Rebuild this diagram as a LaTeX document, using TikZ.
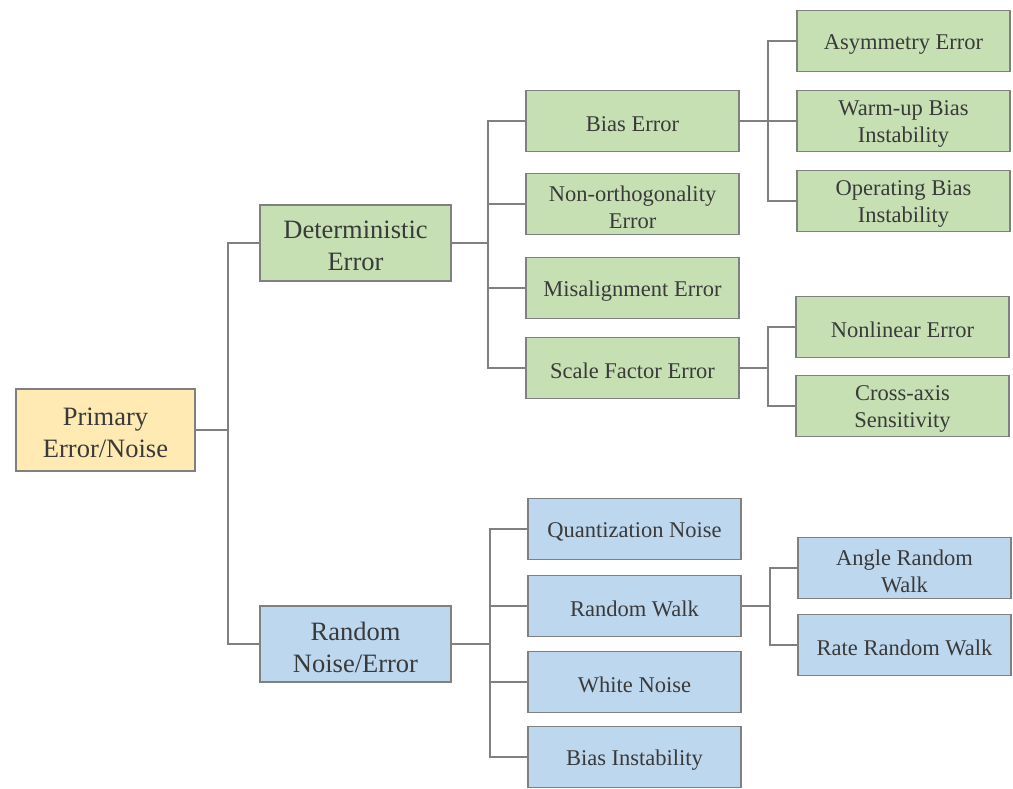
\documentclass[tikz,border=0pt]{standalone}
\usepackage{fontspec}
\setmainfont{Liberation Serif}
\definecolor{edgegray}{HTML}{808080}
\definecolor{txtgray}{HTML}{3A3A3A}
\definecolor{rootfill}{HTML}{FFEAB3}
\definecolor{detfill}{HTML}{C6E0B4}
\definecolor{rndfill}{HTML}{BDD7EE}
\begin{document}
\begin{tikzpicture}[x=1pt,y=-1pt,
  box/.style={draw=edgegray, line width=1.7pt, inner sep=0pt, anchor=center},
  txt/.style={text=txtgray, align=center, inner sep=0pt, yshift=-3pt},
  topbox/.style={box, minimum width=179pt, minimum height=82pt,
    label={[txt, font=\fontsize{26.5}{32}\selectfont]center:#1}},
  midbox/.style={box, minimum width=191pt, minimum height=76pt,
    label={[txt, font=\fontsize{26.5}{32}\selectfont]center:#1}},
  leafbox/.style={box, minimum width=213pt, minimum height=61pt,
    label={[txt, font=\fontsize{22.5}{27}\selectfont]center:#1}},
  link/.style={draw=edgegray, line width=1.7pt}
]
\useasboundingbox (0,0) rectangle (1013,788);

% root
\node[topbox={Primary\\Error/Noise}, fill=rootfill] (root) at (105.5,430) {};

% first level
\node[midbox={Deterministic\\Error}, fill=detfill] (det) at (355.5,243) {};
\node[midbox={Random\\Noise/Error}, fill=rndfill] (rnd) at (355.5,644) {};

% deterministic branch
\node[leafbox={Bias Error}, fill=detfill]               (bias)  at (632.5,121) {};
\node[leafbox={Non-orthogonality\\Error}, fill=detfill] (nonor) at (632.5,204) {};
\node[leafbox={Misalignment Error}, fill=detfill]       (misal) at (632.5,288) {};
\node[leafbox={Scale Factor Error}, fill=detfill]       (scale) at (632.5,368) {};

\node[leafbox={Asymmetry Error}, fill=detfill]           (asym) at (903.5,41)  {};
\node[leafbox={Warm-up Bias\\Instability}, fill=detfill]   (warm) at (903.5,121) {};
\node[leafbox={Operating Bias\\Instability}, fill=detfill] (oper) at (903.5,201) {};

\node[leafbox={Nonlinear Error}, fill=detfill]         (nonlin) at (902.5,327) {};
\node[leafbox={Cross-axis\\Sensitivity}, fill=detfill] (cross)  at (902.5,406) {};

% random branch
\node[leafbox={Quantization Noise}, fill=rndfill] (quant) at (634.5,529) {};
\node[leafbox={Random Walk}, fill=rndfill]        (rwalk) at (634.5,606) {};
\node[leafbox={White Noise}, fill=rndfill]        (white) at (634.5,682) {};
\node[leafbox={Bias Instability}, fill=rndfill]   (binst) at (634.5,757) {};

\node[leafbox={Angle Random\\Walk}, fill=rndfill] (arw) at (904.5,568) {};
\node[leafbox={Rate Random Walk}, fill=rndfill]   (rrw) at (904.5,645) {};

% bus points
\coordinate (j0) at (228,430);
\coordinate (j1) at (488,243);
\coordinate (j2) at (490,644);
\coordinate (j3) at (768,121);
\coordinate (j4) at (768,368);
\coordinate (j5) at (770,606);

% connectors
\draw[link] (root.east) -- (j0);
\draw[link] (j0) |- (det.west);
\draw[link] (j0) |- (rnd.west);

\draw[link] (det.east) -- (j1);
\foreach \c in {bias,nonor,misal,scale} \draw[link] (j1) |- (\c.west);

\draw[link] (rnd.east) -- (j2);
\foreach \c in {quant,rwalk,white,binst} \draw[link] (j2) |- (\c.west);

\draw[link] (bias.east) -- (j3);
\foreach \c in {asym,warm,oper} \draw[link] (j3) |- (\c.west);

\draw[link] (scale.east) -- (j4);
\foreach \c in {nonlin,cross} \draw[link] (j4) |- (\c.west);

\draw[link] (rwalk.east) -- (j5);
\foreach \c in {arw,rrw} \draw[link] (j5) |- (\c.west);
\end{tikzpicture}
\end{document}
